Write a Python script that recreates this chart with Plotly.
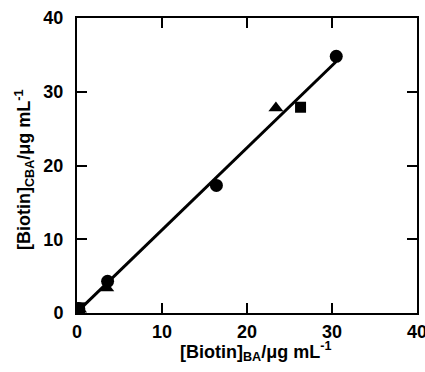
import numpy as np
import plotly.graph_objects as go

# Data
circle_x = [0.2, 3.6, 16.4, 30.5]
circle_y = [0.6, 4.3, 17.3, 34.8]
triangle_x = [0.3, 3.5, 23.4]
triangle_y = [0.5, 3.4, 27.8]
square_x = [0.3, 26.3]
square_y = [0.7, 27.9]
diamond_x = [0.1]
diamond_y = [0.4]

tick_vals = [0, 10, 20, 30, 40]

all_x = np.array(circle_x + triangle_x + square_x + diamond_x)
all_y = np.array(circle_y + triangle_y + square_y + diamond_y)
slope, intercept = np.polyfit(all_x, all_y, 1)
fit_x = np.array([0.0, all_x.max()])
fit_y = slope * fit_x + intercept

fig = go.Figure()
fig.add_trace(go.Scatter(x=fit_x, y=fit_y, mode="lines",
                         line=dict(color="black", width=3), showlegend=False))
fig.add_trace(go.Scatter(x=circle_x, y=circle_y, mode="markers",
                         marker=dict(symbol="circle", size=13, color="black"), showlegend=False))
fig.add_trace(go.Scatter(x=triangle_x, y=triangle_y, mode="markers",
                         marker=dict(symbol="triangle-up", size=13, color="black"), showlegend=False))
fig.add_trace(go.Scatter(x=square_x, y=square_y, mode="markers",
                         marker=dict(symbol="square", size=11, color="black"), showlegend=False))
fig.add_trace(go.Scatter(x=diamond_x, y=diamond_y, mode="markers",
                         marker=dict(symbol="diamond", size=12, color="black"), showlegend=False))

fam = "Liberation Sans, Arial, sans-serif"
font = dict(family=fam, size=18, color="black")
axis_common = dict(
    range=[0, 40], tickvals=tick_vals, ticks="inside", ticklen=10, tickwidth=2,
    tickcolor="black", showline=True, linecolor="black", linewidth=2,
    mirror="ticks", showgrid=False, zeroline=False, automargin=False,
    ticklabeloverflow="allow",
    tickfont=dict(family=fam, size=18, color="black", weight="bold"),
)

fig.update_layout(
    width=425, height=372,
    margin=dict(l=77, r=8, t=18, b=59),
    paper_bgcolor="white", plot_bgcolor="white",
    font=font,
    xaxis=dict(**axis_common, ticklabelstandoff=1),
    yaxis=dict(**axis_common, ticklabelstandoff=8),
    annotations=[
        dict(text="<b>[Biotin]<sub>BA</sub>/μg mL<sup>-1</sup></b>",
             xref="paper", yref="paper", x=0.524, y=-0.132,
             xanchor="center", yanchor="middle", showarrow=False,
             font=dict(family=fam, size=18, color="black")),
        dict(text="<b>[Biotin]<sub>CBA</sub>/μg mL<sup>-1</sup></b>",
             xref="paper", yref="paper", x=-0.156, y=0.488, textangle=-90,
             xanchor="center", yanchor="middle", showarrow=False,
             font=dict(family=fam, size=18, color="black")),
    ],
)

fig.write_html("out.html", config={"displayModeBar": False},
               post_script="document.body.style.margin='0';")
